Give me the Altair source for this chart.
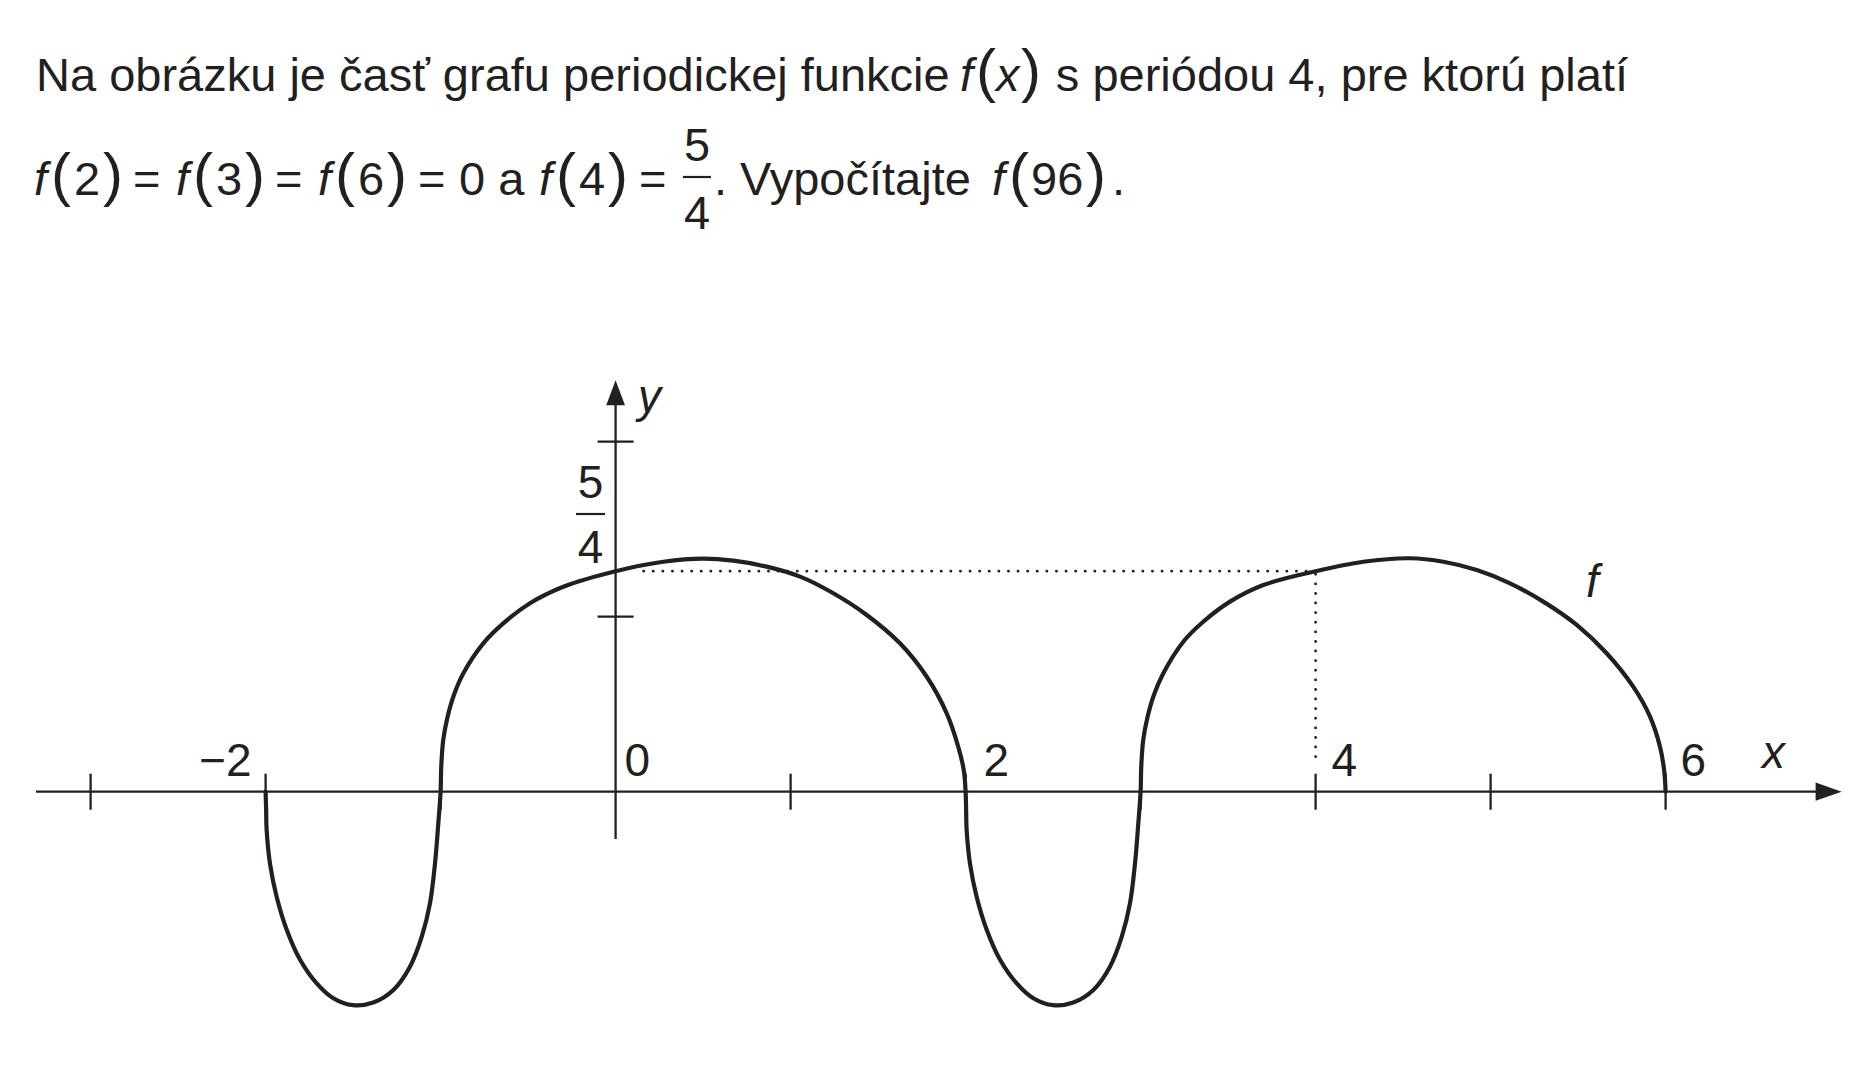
import altair as alt
import pandas as pd

# ---------------- values ----------------
# curve f(x): loop below the axis on [-2,-1], arch on [-1,2], loop on [2,3], arch on [3,6]
loop1_x = [-2.0, -1.997, -1.994, -1.975, -1.937, -1.879, -1.803, -1.708, -1.613, -1.5,
           -1.385, -1.27, -1.175, -1.108, -1.061, -1.032, -1.013]
loop1_y = [0.0, -0.10, -0.22, -0.41, -0.60, -0.79, -0.96, -1.095, -1.18, -1.22,
           -1.205, -1.133, -1.0, -0.83, -0.64, -0.41, -0.18]
hump1_x = [-1.0, -0.996, -0.985, -0.962, -0.925, -0.87, -0.756, -0.642, -0.489, -0.299, 0.0,
           0.273, 0.5, 0.673, 0.863, 1.054, 1.244, 1.435, 1.625, 1.778, 1.892, 1.958, 1.99]
hump1_y = [0.0, 0.15, 0.295, 0.42, 0.55, 0.677, 0.848, 0.962, 1.077, 1.171, 1.26,
           1.314, 1.332, 1.320, 1.286, 1.229, 1.134, 1.010, 0.848, 0.657, 0.448, 0.257, 0.12]
loop2_x = [2.0, 2.003, 2.006, 2.025, 2.063, 2.121, 2.197, 2.292, 2.387, 2.5,
           2.615, 2.73, 2.825, 2.892, 2.939, 2.968, 2.987]
loop2_y = [0.0, -0.10, -0.22, -0.41, -0.60, -0.79, -0.96, -1.095, -1.18, -1.22,
           -1.205, -1.133, -1.0, -0.83, -0.64, -0.41, -0.18]
hump2_x = [3.0, 3.004, 3.015, 3.038, 3.075, 3.13, 3.244, 3.358, 3.511, 3.701, 4.0,
           4.273, 4.539, 4.73, 4.921, 5.111, 5.301, 5.492, 5.663, 5.815, 5.911, 5.968, 5.992, 6.0]
hump2_y = [0.0, 0.15, 0.295, 0.42, 0.55, 0.677, 0.857, 0.971, 1.086, 1.181, 1.26,
           1.314, 1.334, 1.314, 1.267, 1.191, 1.086, 0.953, 0.791, 0.6, 0.429, 0.257, 0.12, 0.0]

x_ticks = [-3, -2, -1, 1, 2, 3, 4, 5, 6]
y_ticks = [1, 2]
x_tick_labels = ["\u22122", "0", "2", "4", "6"]
x_tick_label_at = [-2, 0, 2, 4, 6]
f4_value = 1.26          # f(4) = 5/4 as drawn
guide_x = 4
axis_x_range = [-3.312, 6.86]
axis_y_range = [-0.27, 2.29]

# ---------------- layout ----------------
W, H = 1858, 1061
UNIT = 175.0
OX, OY = 615.6 - 8, 791.7 - 8
XDOM = [-OX / UNIT, (W - OX) / UNIT]
YDOM = [-(H - OY) / UNIT, OY / UNIT]
INK = "#231f20"
FONT = "Liberation Sans"
TICK = 18 / UNIT

xs = alt.Scale(domain=XDOM, nice=False, zero=False)
ys = alt.Scale(domain=YDOM, nice=False, zero=False)

cx = loop1_x + hump1_x + loop2_x + hump2_x
cy = loop1_y + hump1_y + loop2_y + hump2_y
curve_df = pd.DataFrame({"x": cx, "y": cy, "i": list(range(len(cx)))})

curve = alt.Chart(curve_df).mark_line(
    color=INK, strokeWidth=4.2, interpolate="catmull-rom", strokeCap="round", strokeJoin="round"
).encode(
    x=alt.X("x:Q", scale=xs, axis=None),
    y=alt.Y("y:Q", scale=ys, axis=None),
    order="i:Q",
)

# axes
xaxis_df = pd.DataFrame({"x": [axis_x_range[0]], "x2": [axis_x_range[1]], "y": [0.0]})
xaxis = alt.Chart(xaxis_df).mark_rule(color=INK, strokeWidth=2.3).encode(
    x=alt.X("x:Q", scale=xs, axis=None), x2="x2:Q", y=alt.Y("y:Q", scale=ys, axis=None))
yaxis_df = pd.DataFrame({"y": [axis_y_range[0]], "y2": [axis_y_range[1]], "x": [0.0]})
yaxis = alt.Chart(yaxis_df).mark_rule(color=INK, strokeWidth=2.3).encode(
    y=alt.Y("y:Q", scale=ys, axis=None), y2="y2:Q", x=alt.X("x:Q", scale=xs, axis=None))

xt_df = pd.DataFrame({"x": x_ticks, "y": [-TICK] * len(x_ticks), "y2": [TICK] * len(x_ticks)})
xt = alt.Chart(xt_df).mark_rule(color=INK, strokeWidth=2.3).encode(
    x=alt.X("x:Q", scale=xs, axis=None), y=alt.Y("y:Q", scale=ys, axis=None), y2="y2:Q")
yt_df = pd.DataFrame({"y": y_ticks, "x": [-TICK] * len(y_ticks), "x2": [TICK] * len(y_ticks)})
yt = alt.Chart(yt_df).mark_rule(color=INK, strokeWidth=2.3).encode(
    y=alt.Y("y:Q", scale=ys, axis=None), x=alt.X("x:Q", scale=xs, axis=None), x2="x2:Q")

# arrow heads
arr_x_df = pd.DataFrame({"x": [axis_x_range[1] + 12.5 / UNIT], "y": [0.0]})
arr_x = alt.Chart(arr_x_df).mark_point(
    shape="M -1 -0.7 L 1 0 L -1 0.7 Z", size=26 * 26, filled=True, opacity=1, color=INK, strokeWidth=0
).encode(x=alt.X("x:Q", scale=xs, axis=None), y=alt.Y("y:Q", scale=ys, axis=None))
arr_y_df = pd.DataFrame({"x": [0.0], "y": [axis_y_range[1] - 0.01]})
arr_y = alt.Chart(arr_y_df).mark_point(
    shape="M -0.75 1 L 0 -1 L 0.75 1 Z", size=25 * 25, filled=True, opacity=1, color=INK, strokeWidth=0
).encode(x=alt.X("x:Q", scale=xs, axis=None), y=alt.Y("y:Q", scale=ys, axis=None))

# dotted guides at f(4)
hdot_df = pd.DataFrame({"x": [0.16], "x2": [guide_x], "y": [f4_value]})
hdot = alt.Chart(hdot_df).mark_rule(color=INK, strokeWidth=2.8, strokeDash=[0.1, 9.5], strokeCap="round").encode(
    x=alt.X("x:Q", scale=xs, axis=None), x2="x2:Q", y=alt.Y("y:Q", scale=ys, axis=None))
vdot_df = pd.DataFrame({"x": [guide_x], "y": [0.2], "y2": [f4_value]})
vdot = alt.Chart(vdot_df).mark_rule(color=INK, strokeWidth=2.8, strokeDash=[0.1, 9.5], strokeCap="round").encode(
    x=alt.X("x:Q", scale=xs, axis=None), y=alt.Y("y:Q", scale=ys, axis=None), y2="y2:Q")

one = pd.DataFrame({"a": [0]})


def txt(s, px, py, size=46, style="normal", align="left"):
    return alt.Chart(one).mark_text(
        text=s, fontSize=size, fontStyle=style, align=align, baseline="alphabetic",
        font=FONT, color=INK
    ).encode(x=alt.value(px - 8), y=alt.value(py - 8))


def hbar(x1, x2, py):
    return alt.Chart(one).mark_rule(color=INK, strokeWidth=2.2).encode(
        x=alt.value(x1 - 8), x2=alt.value(x2 - 8), y=alt.value(py - 8))


texts = []
# tick labels
label_dx = [-14, 9, 18, 16, 15]
label_align = ["right", "left", "left", "left", "left"]
for lab, at, dx, al in zip(x_tick_labels, x_tick_label_at, label_dx, label_align):
    texts.append(txt(lab, 615.6 + at * UNIT + dx, 776, align=al))
# axis names and curve name
texts.append(txt("x", 1762, 768, style="italic"))
texts.append(txt("y", 638, 412, style="italic"))
texts.append(txt("f", 1586, 597, style="italic"))
# 5/4 on the y axis
texts.append(txt("5", 590.5, 498, align="center"))
texts.append(hbar(576, 605, 514))
texts.append(txt("4", 590.5, 563, align="center"))

# header line 1
B1 = 91
HS = 47
PS = 60
texts.append(txt("Na obrázku je časť grafu periodickej funkcie", 36, B1, size=HS))
texts.append(txt("f", 960, B1, size=HS, style="italic"))
texts.append(txt("(", 976, B1, size=PS))
texts.append(txt("x", 996, B1, size=HS, style="italic"))
texts.append(txt(")", 1021, B1, size=PS))
texts.append(txt("s periódou 4, pre ktorú platí", 1628, B1, size=HS, align="right"))

# header line 2
B2 = 195
for fx, arg, px0 in [(34, "2", 74), (176, "3", 216), (318, "6", 358), (539, "4", 579), (992, "96", 1031)]:
    texts.append(txt("f", fx, B2, size=HS, style="italic"))
    texts.append(txt("(", fx + 17, B2, size=PS))
    texts.append(txt(arg, px0, B2, size=HS))
    texts.append(txt(")", px0 + 26 * len(arg) + 3, B2, size=PS))
for ex in [133, 275, 418, 639]:
    texts.append(txt("=", ex, B2, size=HS))
texts.append(txt("0 a", 459, B2, size=HS))
texts.append(txt("5", 697, 161, size=HS, align="center"))
texts.append(hbar(683, 711, 177))
texts.append(txt("4", 697, 229, size=HS, align="center"))
texts.append(txt(". Vypočítajte", 714, B2, size=HS))
texts.append(txt(".", 1112, B2, size=HS))

chart = alt.layer(
    hdot, vdot, xaxis, yaxis, xt, yt, arr_x, arr_y, curve, *texts
).properties(
    width=W, height=H, padding=0, autosize=alt.AutoSizeParams(type="none")
).configure_view(stroke=None)

chart.save("out.html", embed_options={"renderer": "svg", "actions": False})
